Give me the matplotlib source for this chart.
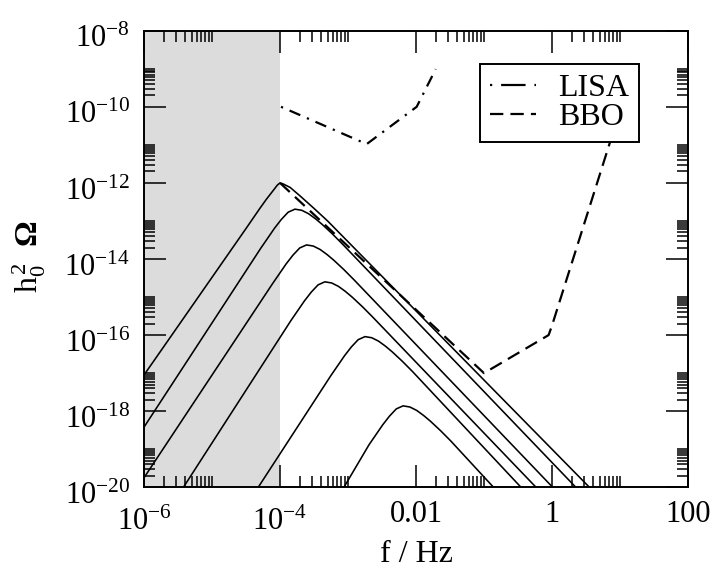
import matplotlib
matplotlib.use("Agg")
import matplotlib.pyplot as plt
import matplotlib.transforms as mtransforms
import numpy as np
from matplotlib.lines import Line2D
from matplotlib.ticker import NullFormatter

plt.rcParams['font.family'] = ['Liberation Serif', 'DejaVu Serif']
plt.rcParams['mathtext.fontset'] = 'custom'
plt.rcParams['mathtext.rm'] = 'Liberation Serif'
plt.rcParams['mathtext.it'] = 'Liberation Serif:italic'
plt.rcParams['mathtext.bf'] = 'Liberation Serif:bold'

# spectra, as log10(f / Hz) and log10(h0^2 Omega)
a_logf = [-6.0, -4.5, -4.3, -4.2, -4.1, -4.04, -4.0, -3.95, -3.85, -3.7, -3.5, -3.3, 0.55]
a_logom = [-17.05, -13.2, -12.68, -12.43, -12.2, -12.06, -12.0, -12.03, -12.12, -12.35, -12.67, -13.0, -20.0]

b_logf = [-6.0, -4.28, -4.18, -4.08, -3.98, -3.88, -3.78, -3.68, -3.58, -3.48, -3.38, -3.23, -3.08, 0.35]
b_logom = [-18.42, -13.71, -13.45, -13.19, -12.96, -12.77, -12.69, -12.72, -12.81, -12.94, -13.09, -13.34, -13.61, -20.0]

c_logf = [-6.0, -4.11, -4.01, -3.91, -3.81, -3.71, -3.61, -3.51, -3.41, -3.31, -3.21, -3.06, -2.91, 0.01]
c_logom = [-19.75, -14.65, -14.39, -14.13, -13.90, -13.71, -13.63, -13.66, -13.75, -13.88, -14.03, -14.28, -14.55, -20.0]

d_logf = [-5.42, -3.84, -3.74, -3.64, -3.54, -3.44, -3.34, -3.24, -3.14, -3.04, -2.94, -2.79, -2.64, -0.235]
d_logom = [-20.0, -15.62, -15.36, -15.10, -14.87, -14.68, -14.60, -14.63, -14.72, -14.85, -15.00, -15.25, -15.52, -20.0]

e_logf = [-4.32, -3.25, -3.15, -3.05, -2.95, -2.85, -2.75, -2.65, -2.55, -2.45, -2.35, -2.20, -2.05, -0.456]
e_logom = [-20.0, -17.06, -16.80, -16.54, -16.31, -16.12, -16.04, -16.07, -16.16, -16.29, -16.44, -16.69, -16.96, -20.0]

f_logf = [-3.06, -2.69, -2.59, -2.49, -2.39, -2.29, -2.19, -2.09, -1.99, -1.89, -1.79, -1.64, -1.49, -0.86]
f_logom = [-20.0, -18.88, -18.62, -18.36, -18.13, -17.94, -17.86, -17.89, -17.98, -18.11, -18.26, -18.51, -18.78, -20.0]

lisa_logf = [-3.985, -2.725, -1.99, -1.71]
lisa_logom = [-10.0, -10.98, -10.0, -9.01]

bbo_logf = [-4.0, -1.0, -0.05, 0.0, 1.0]
bbo_logom = [-12.0, -17.0, -16.0, -15.75, -10.1]

xtick_vals = [1e-6, 1e-4, 1e-2, 1, 100]
xtick_labels = ['10$^{-6}$', '10$^{-4}$', '0.01', '1', '100']
ytick_vals = [1e-20, 1e-18, 1e-16, 1e-14, 1e-12, 1e-10, 1e-8]
ytick_labels = ['10$^{-20}$', '10$^{-18}$', '10$^{-16}$', '10$^{-14}$',
                '10$^{-12}$', '10$^{-10}$', '10$^{-8}$']

fig = plt.figure(figsize=(7.16, 5.73), dpi=100)
ax = fig.add_axes([0.2011, 0.1496, 0.7598, 0.7968])

ax.axvspan(1e-6, 1e-4, color='#dcdcdc', lw=0, zorder=0)

for lf, lo in [(a_logf, a_logom), (b_logf, b_logom), (c_logf, c_logom),
               (d_logf, d_logom), (e_logf, e_logom), (f_logf, f_logom)]:
    ax.plot(10 ** np.array(lf), 10 ** np.array(lo), color='black', lw=1.15,
            solid_joinstyle='round')

ax.plot(10 ** np.array(lisa_logf), 10 ** np.array(lisa_logom), color='black',
        lw=1.6, linestyle=(0, (1, 3.2, 5.25, 3.25)))
ax.plot(10 ** np.array(bbo_logf), 10 ** np.array(bbo_logom), color='black',
        lw=1.6, linestyle=(0, (6, 3.2)))

ax.set_xscale('log')
ax.set_yscale('log')
ax.set_xlim(1e-6, 100)
ax.set_ylim(1e-20, 1e-8)

# major ticks every two decades, minor ticks 2..10 above each major
xminor = [k * m for m in [1e-6, 1e-4, 1e-2, 1] for k in range(2, 11)]
yminor = [k * m for m in [1e-20, 1e-18, 1e-16, 1e-14, 1e-12, 1e-10] for k in range(2, 11)]
ax.set_xticks(xtick_vals, labels=xtick_labels)
ax.set_yticks(ytick_vals, labels=ytick_labels)
ax.set_xticks(xminor, minor=True)
ax.set_yticks(yminor, minor=True)
ax.xaxis.set_minor_formatter(NullFormatter())
ax.yaxis.set_minor_formatter(NullFormatter())

ax.tick_params(which='both', direction='in', top=True, right=True, width=1.1,
               labelsize=22)
ax.tick_params(which='major', length=15.8)
ax.tick_params(which='minor', length=7.9)
ax.tick_params(axis='y', pad=10)
ax.tick_params(axis='x', pad=7)
for sp in ax.spines.values():
    sp.set_linewidth(1.4)

# nudge tick labels the way the original sets them
for lab in ax.get_yticklabels():
    lab.set_transform(lab.get_transform() +
                      mtransforms.ScaledTranslation(0, -4 / 72, fig.dpi_scale_trans))
for lab in ax.get_xticklabels():
    dy = -8 / 72 if '$' in lab.get_text() else -2 / 72
    lab.set_transform(lab.get_transform() +
                      mtransforms.ScaledTranslation(0, dy, fig.dpi_scale_trans))

ax.set_xlabel('f / Hz', fontsize=23)
ax.set_ylabel(r'h$_0^{\,2}$  $\mathbf{\Omega}$', fontsize=23)
ax.xaxis.set_label_coords(0.5, -0.115)
ax.yaxis.set_label_coords(-0.176, 0.505)

handles = [Line2D([], [], color='black', lw=1.6, linestyle=(0, (1, 4, 11, 4, 1, 10))),
           Line2D([], [], color='black', lw=1.6, linestyle=(0, (6, 3.2)))]
leg = ax.legend(handles, ['LISA', 'BBO'], loc='upper right',
                bbox_to_anchor=(0.910, 0.927), borderaxespad=0,
                fontsize=23, frameon=True, fancybox=False, framealpha=1,
                edgecolor='black', handlelength=1.45, handletextpad=0.7,
                borderpad=0.3, labelspacing=0.0)
leg.get_frame().set_linewidth(1.4)

fig.savefig('out.png', dpi=100)
